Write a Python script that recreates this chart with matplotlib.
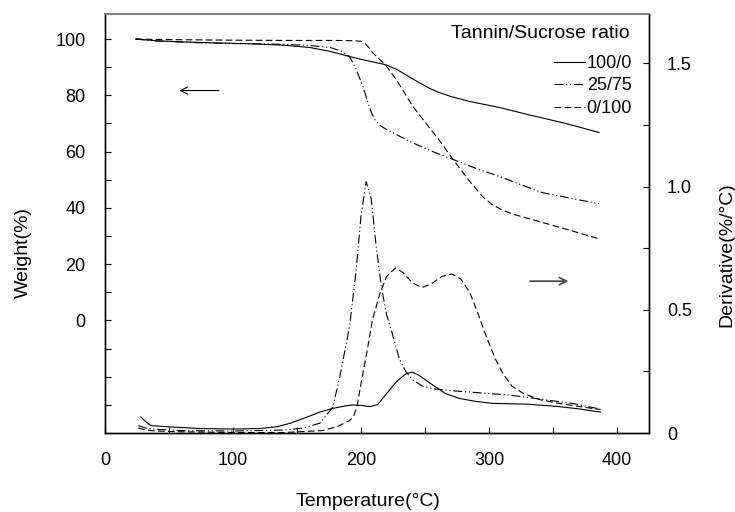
import matplotlib
matplotlib.use("Agg")
import matplotlib.pyplot as plt
from matplotlib.ticker import FixedLocator, FuncFormatter

plt.rcParams['font.family'] = ['Liberation Sans', 'DejaVu Sans']
plt.rcParams['font.size'] = 13

# weight loss curves (left axis)
w_t_100 = [24, 40, 60, 80, 100, 120, 140, 160, 176, 191, 200, 210, 219, 228, 235, 245, 254, 260, 270, 285, 308, 330, 360, 386]
w_100 = [100, 99.4, 99.0, 98.7, 98.5, 98.2, 97.8, 97.0, 95.6, 93.8, 92.8, 91.8, 90.9, 89.2, 87.3, 84.6, 82.4, 81.2, 79.6, 77.8, 75.7, 73.2, 70.0, 66.8]

w_t_25 = [24, 40, 60, 80, 100, 120, 140, 160, 176, 185, 191, 196, 201.6, 205, 208, 211, 215, 219, 223, 230, 240, 255, 272, 290, 308, 325, 342, 365, 386]
w_25 = [100, 99.3, 98.9, 98.6, 98.4, 98.3, 98.1, 97.7, 97.0, 95.6, 93.8, 89.5, 83, 78, 74, 71.2, 69.3, 68.1, 67.2, 65.5, 63.2, 60.2, 57.2, 54.0, 51.2, 48.2, 45.4, 43.3, 41.5]

w_t_0 = [24, 50, 100, 150, 180, 195, 200, 203, 206, 209, 214, 219, 228, 240.6, 250, 262, 272, 283, 295, 302, 310, 320, 342, 365, 386]
w_0 = [100, 99.8, 99.6, 99.5, 99.5, 99.4, 99.2, 98.5, 97.0, 95.2, 93.0, 90.9, 85.3, 76, 70.5, 63.5, 57.2, 50.5, 44, 41.3, 39.3, 37.6, 34.8, 31.8, 29]

# derivative curves (right axis)
d_t_100 = [28, 32, 36, 50, 75, 100, 120, 134, 145, 158, 168, 178, 188, 194, 200, 207, 213, 220, 228, 235, 240, 245, 256, 266, 277, 290, 303, 330, 355, 370, 387]
d_100 = [0.065, 0.045, 0.03, 0.025, 0.018, 0.016, 0.018, 0.025, 0.04, 0.065, 0.085, 0.10, 0.11, 0.114, 0.112, 0.107, 0.115, 0.16, 0.21, 0.24, 0.247, 0.235, 0.195, 0.16, 0.14, 0.128, 0.12, 0.117, 0.107, 0.098, 0.085]

d_t_25 = [26, 32, 40, 60, 100, 140, 155, 168, 178, 183.5, 188, 191, 196, 200, 204, 208, 212, 216, 220, 223, 230, 235, 240.6, 248, 256, 270, 285, 316, 345, 365, 387]
d_25 = [0.03, 0.02, 0.015, 0.01, 0.008, 0.012, 0.02, 0.04, 0.105, 0.23, 0.35, 0.43, 0.65, 0.88, 1.02, 0.95, 0.75, 0.59, 0.48, 0.43, 0.30, 0.25, 0.215, 0.19, 0.18, 0.172, 0.166, 0.154, 0.134, 0.12, 0.097]

d_t_0 = [26, 32, 40, 60, 100, 140, 170, 181, 187, 191, 194, 197, 200, 205, 209, 215, 220, 227, 233, 240, 247.5, 255, 263, 271, 278, 285, 291, 298, 305, 311, 318, 327, 340, 355, 370, 387]
d_0 = [0.02, 0.012, 0.008, 0.005, 0.002, 0.002, 0.01, 0.025, 0.04, 0.05, 0.065, 0.11, 0.2, 0.34, 0.46, 0.57, 0.635, 0.67, 0.65, 0.61, 0.59, 0.605, 0.635, 0.645, 0.625, 0.57, 0.49, 0.39, 0.3, 0.24, 0.19, 0.16, 0.135, 0.12, 0.108, 0.095]

labels = ['100/0', '25/75', '0/100']
styles = ['-', (0, (8, 2.5, 1, 2.5, 1, 2.5)), (0, (6, 3))]

fig = plt.figure(figsize=(7.35, 5.12), dpi=100)
ax = fig.add_axes([105 / 735, 1 - 433 / 512, 544 / 735, 419 / 512])
ax2 = ax.twinx()

lw = 0.8
h1, = ax.plot(w_t_100, w_100, color='black', lw=lw, ls=styles[0])
h2, = ax.plot(w_t_25, w_25, color='black', lw=lw, ls=styles[1])
h3, = ax.plot(w_t_0, w_0, color='black', lw=lw, ls=styles[2])
ax2.plot(d_t_100, d_100, color='black', lw=lw, ls=styles[0])
ax2.plot(d_t_25, d_25, color='black', lw=lw, ls=styles[1])
ax2.plot(d_t_0, d_0, color='black', lw=lw, ls=styles[2])

ax.set_xlim(0, 425)
ax.set_ylim(-40, 108.9)
ax2.set_ylim(0, 1.7)

ax.set_xticks([0, 100, 200, 300, 400])
ax.xaxis.set_minor_locator(FixedLocator([50, 150, 250, 350]))
ax.set_yticks([0, 20, 40, 60, 80, 100])
ax.yaxis.set_minor_locator(FixedLocator([-40, -30, -20, -10, 10, 30, 50, 70, 90]))
ax2.set_yticks([0, 0.5, 1.0, 1.5])
ax2.yaxis.set_minor_locator(FixedLocator([0.25, 0.75, 1.25]))
ax2.yaxis.set_major_formatter(FuncFormatter(lambda v, p: '0' if v == 0 else '%.1f' % v))

ax.tick_params(axis='x', which='both', direction='in', length=4.5, width=0.8, pad=13.7)
ax.tick_params(axis='y', which='both', direction='in', length=4.5, width=0.8, pad=14)
ax2.tick_params(axis='y', which='both', direction='in', length=4.5, width=0.8, pad=13)

for a in (ax, ax2):
    for s in ['left', 'right', 'bottom']:
        a.spines[s].set_linewidth(1.0)
        a.spines[s].set_color('black')
    a.spines['top'].set_color('#808080')
    a.spines['top'].set_linewidth(1.3)

fig.text(23 / 735, 1 - 252 / 512, 'Weight(%)', rotation=90, ha='center', va='center', fontsize=14)
fig.text(727 / 735, 1 - 255 / 512, 'Derivative(%/°C)', rotation=90, ha='center', va='center', fontsize=14)
fig.text(368 / 735, 1 - 501 / 512, 'Temperature(°C)', ha='center', va='center', fontsize=14)

ax.annotate('', xy=(58, 81.7), xytext=(89, 81.7),
            arrowprops=dict(arrowstyle='->', lw=0.8, color='black', shrinkA=0, shrinkB=0))
ax2.annotate('', xy=(362, 0.616), xytext=(332, 0.616),
             arrowprops=dict(arrowstyle='->', lw=1.2, color='#444444', shrinkA=0, shrinkB=0))

fig.text(630 / 735, 1 - 38 / 512, 'Tannin/Sucrose ratio', ha='right', va='baseline', fontsize=14)
leg = ax.legend([h1, h2, h3], labels, loc='upper right',
                bbox_to_anchor=(632 / 735, 1 - 55 / 512), bbox_transform=fig.transFigure,
                frameon=False, handlelength=1.7, handletextpad=0.1,
                labelspacing=0.3, borderpad=0, borderaxespad=0, fontsize=13)

plt.savefig('out.png', dpi=100)
